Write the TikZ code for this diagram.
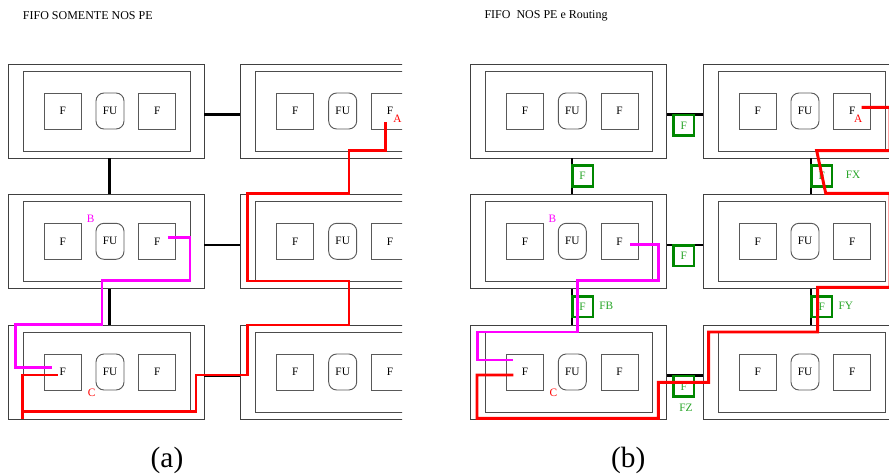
\documentclass[tikz,border=0pt]{standalone}
\usepackage{fontspec}
\setmainfont{Liberation Serif}
\usetikzlibrary{positioning}
\definecolor{routegreen}{RGB}{0,135,0}
\definecolor{tagreen}{RGB}{40,165,40}
\definecolor{routemag}{RGB}{255,0,255}
\tikzset{
  lbl/.style={font=\fontsize{8.5}{9}\selectfont, inner sep=0pt},
  pe/.style={draw=black!75, line width=0.7pt, minimum width=147pt, minimum height=70.5pt, inner sep=0pt},
  core/.style={draw=black!70, line width=0.7pt, minimum width=125.25pt, minimum height=60pt, inner sep=0pt},
  fifo/.style={lbl, draw=black!65, line width=0.7pt, minimum width=27.75pt, minimum height=27pt},
  fu/.style={fifo, rounded corners=6pt, minimum width=21pt},
  link/.style={line width=1.8pt},
  rfifo/.style={lbl, draw=routegreen, fill=white, line width=2pt, minimum size=15.5pt, text=tagreen},
  route/.style={draw=red, line width=2.2pt},
  pathb/.style={draw=routemag, line width=2.2pt},
  tag/.style={lbl, text=tagreen},
  title/.style={font=\fontsize{9}{10}\selectfont, anchor=west, inner sep=0pt},
  caption/.style={font=\fontsize{22}{24}\selectfont, inner sep=0pt},
}
% one 3x2 grid of PEs, #1 = name prefix, #2 = x offset (px)
\newcommand{\pegrid}[2]{%
  \foreach \r/\y in {1/111,2/241.3,3/372}{
    \foreach \c/\x in {1/106,2/338.7}{
      \node[pe] (#1\r\c) at (\x+#2,\y) {};
      \node[core] (#1\r\c-core) at ([xshift=0.5pt]#1\r\c) {};
      \node[fifo] (#1\r\c-fl) at ([xshift=-32.5pt]#1\r\c) {F};
      \node[fu] (#1\r\c-fu) at ([xshift=3pt]#1\r\c) {FU};
      \node[fifo] (#1\r\c-fr) at ([xshift=38.4pt]#1\r\c) {F};
    }
  }%
}

\begin{document}
\begin{tikzpicture}[x=0.75pt, y=-0.75pt]
  \useasboundingbox (0,0) rectangle (889,475);

  % (a) FIFO only in the PEs
  \begin{scope}
    \clip (0,40) rectangle (402,430);
    \pegrid{a}{0}
    \foreach \r in {1,2,3}
      \draw[link] ([yshift=-2.7pt]a\r1.east) -- ([yshift=-2.7pt]a\r2.west);
    \draw[link] ([xshift=2.7pt]a11.south) -- ([xshift=2.7pt]a21.north);
    \draw[link] ([xshift=2.7pt]a21.south) -- ([xshift=2.7pt]a31.north);
    % routes
    \draw[route] (385.7,122.3) -- (385.7,150.7) -- (349,150.7) -- (349,193.3)
      -- (247.7,193.3) -- (247.7,281) -- (349,281) -- (349,325) -- (247.7,325)
      -- (247.7,375) -- (196,375) -- (196,411.7) -- (22.7,411.7);
    \draw[route] (22.7,419) -- (22.7,375) -- (58.3,375);
    \draw[pathb] (168.3,237.5) -- (190,237.5) -- (190,280.7) -- (102,280.7)
      -- (102,324.3) -- (15.3,324.3) -- (15.3,367.3) -- (51.7,367.3);
    \node[lbl, text=red] (aA) at (397.5,118.5) {A};
  \end{scope}
  \node[lbl, text=routemag] (aB) at (90.7,219) {B};
  \node[lbl, text=red] (aC) at (91.7,392.7) {C};
  \node[title] (atitle) at (22.7,16) {FIFO SOMENTE NOS PE};
  \node[caption] (acap) at (167,460) {(a)};

  % (b) FIFO in the PEs and in the routing
  \begin{scope}
    \clip (440,40) rectangle (889,430);
    \pegrid{b}{462.3}
    \foreach \r in {1,2,3}
      \draw[link] ([yshift=-2.7pt]b\r1.east) -- ([yshift=-2.7pt]b\r2.west);
    \draw[link] ([xshift=2.7pt]b11.south) -- ([xshift=2.7pt]b21.north);
    \draw[link] ([xshift=2.7pt]b21.south) -- ([xshift=2.7pt]b31.north);
    \draw[link] ([xshift=7.7pt]b12.south) -- ([xshift=7.7pt]b22.north);
    \draw[link] ([xshift=7.7pt]b22.south) -- ([xshift=7.7pt]b32.north);
    % routing fifos
    \node[rfifo] (bh1) at (683.8,125.3) {F};
    \node[rfifo] (bh2) at (683.8,255.6) {F};
    \node[rfifo] (bh3) at (683.8,386.3) {F};
    \node[rfifo] (bv1) at (582.5,176) {F};
    \node[rfifo] (bv2) at (582.5,306.5) {F};
    \node[rfifo] (bx) at (821.7,176) {F};
    \node[rfifo] (by) at (821.7,306.5) {F};
    % routes
    \draw[route] (861.7,107.3) -- (890,107.3) -- (890,150.7) -- (816.7,150.7)
      -- (825.7,193.3) -- (890,193.3) -- (890,287.3) -- (817.7,287.3)
      -- (817.7,332) -- (708.7,332) -- (708.7,382.3) -- (658.3,382.3)
      -- (658.3,418.3) -- (477,418.3) -- (477,375) -- (513.3,375);
    \draw[pathb] (630,244.7) -- (658.3,244.7) -- (658.3,280.7) -- (577.7,280.7)
      -- (577.7,332) -- (477.3,332) -- (477.3,360) -- (513.3,360);
  \end{scope}
  \node[lbl, text=red] (bA) at (858.3,119) {A};
  \node[lbl, text=routemag] (bB) at (552.3,219) {B};
  \node[lbl, text=red] (bC) at (553.3,392.7) {C};
  \node[tag] (tFX) at (853,175) {FX};
  \node[tag] (tFB) at (606.3,306) {FB};
  \node[tag] (tFY) at (845.8,306) {FY};
  \node[tag] (tFZ) at (686,407.7) {FZ};
  \node[title] (btitle) at (484.3,16) {FIFO\ \ NOS PE e Routing};
  \node[caption] (bcap) at (628.3,460) {(b)};
\end{tikzpicture}
\end{document}
